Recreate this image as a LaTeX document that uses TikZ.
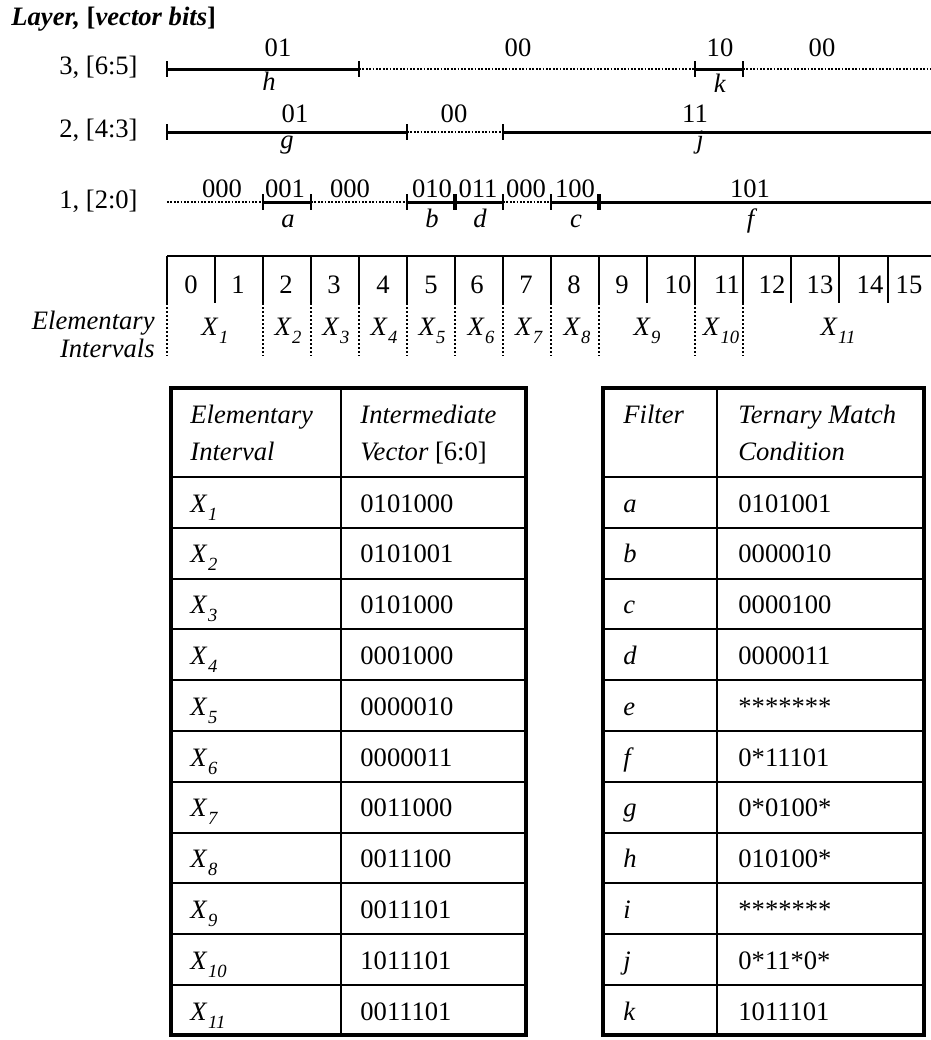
\documentclass[tikz,border=0pt]{standalone}
\usepackage{fontspec}
\setmainfont{Liberation Serif}
\newcommand\Xsub[1]{\textit{X}\kern0.3pt\raisebox{-4pt}{\fontsize{9.3}{10}\selectfont\textit{#1}}}
\tikzset{
  lbl/.style={inner sep=0pt, anchor=base, font=\fontsize{13.3}{16}\selectfont},
  lblw/.style={lbl, anchor=base west},
  lble/.style={lbl, anchor=base east},
  seg/.style={line width=1.5pt},
  dots/.style={line width=0.9pt, dash pattern=on 0.9pt off 0.8pt},
  tk/.style={line width=1.3pt},
  tkb/.style={line width=2.2pt},
  ruler/.style={line width=1.3pt},
  rdots/.style={line width=1.3pt, dash pattern=on 1pt off 1pt},
  outer/.style={line width=2.4pt},
  inner/.style={line width=1pt},
}
\begin{document}
\begin{tikzpicture}[x=0.5pt,y=-0.5pt]
\useasboundingbox (0,0) rectangle (931,1040);

% title
\node[lblw] (title) at (11,25) {\textbf{\textit{Layer,} [\textit{vector bits}]}};

% layer labels
\node[lble] (lab3) at (138,74) {3, [6:5]};
\node[lble] (lab2) at (138,137) {2, [4:3]};
\node[lble] (lab1) at (138,208) {1, [2:0]};

% ---------- layer 3 ----------
\coordinate (A0) at (167,69);
\coordinate (A4) at (359,69);
\coordinate (A11) at (695,69);
\coordinate (A12) at (743,69);
\coordinate (Ae) at (931,69);
\draw[seg] (A0) -- (A4);
\draw[dots] (A4) -- (A11);
\draw[seg] (A11) -- (A12);
\draw[dots] (A12) -- (Ae);
\foreach \c in {A0,A4,A11,A12} \draw[tk] (\c) ++(0,-8) -- ++(0,16);
\node[lbl] (l3a) at (278,56) {01};
\node[lbl] (l3b) at (518,56) {00};
\node[lbl] (l3c) at (720,56) {10};
\node[lbl] (l3d) at (822,56) {00};
\node[lbl] (fh) at (269,90) {\textit{h}};
\node[lbl] (fk) at (720,92) {\textit{k}};

% ---------- layer 2 ----------
\coordinate (B0) at (167,132);
\coordinate (B5) at (407,132);
\coordinate (B7) at (503,132);
\coordinate (Be) at (931,132);
\draw[seg] (B0) -- (B5);
\draw[dots] (B5) -- (B7);
\draw[seg] (B7) -- (Be);
\foreach \c in {B0,B5,B7} \draw[tk] (\c) ++(0,-8) -- ++(0,16);
\node[lbl] (l2a) at (295,122) {01};
\node[lbl] (l2b) at (454,122) {00};
\node[lbl] (l2c) at (695,122) {11};
\node[lbl] (fg) at (287,148) {\textit{g}};
\node[lbl] (fj) at (700,148) {\textit{j}};

% ---------- layer 1 ----------
\coordinate (C0) at (167,202);
\coordinate (C2) at (263,202);
\coordinate (C3) at (311,202);
\coordinate (C5) at (407,202);
\coordinate (C6) at (455,202);
\coordinate (C7) at (503,202);
\coordinate (C8) at (551,202);
\coordinate (C9) at (599,202);
\coordinate (Ce) at (931,202);
\draw[dots] (C0) -- (C2);
\draw[seg] (C2) -- (C3);
\draw[dots] (C3) -- (C5);
\draw[seg] (C5) -- (C7);
\draw[dots] (C7) -- (C8);
\draw[seg] (C8) -- (Ce);
\foreach \c in {C2,C3,C5,C7,C8} \draw[tk] (\c) ++(0,-8) -- ++(0,16);
\foreach \c in {C6,C9} \draw[tkb] (\c) ++(0,-8) -- ++(0,16);
\node[lbl] (l1a) at (222,197) {000};
\node[lbl] (l1b) at (285,197) {001};
\node[lbl] (l1c) at (350,197) {000};
\node[lbl] (l1d) at (432,197) {010};
\node[lbl] (l1e) at (478,197) {011};
\node[lbl] (l1f) at (526,197) {000};
\node[lbl] (l1g) at (575,197) {100};
\node[lbl] (l1h) at (750,197) {101};
\node[lbl] (fa) at (288,227) {\textit{a}};
\node[lbl] (fb) at (432,227) {\textit{b}};
\node[lbl] (fd) at (480,227) {\textit{d}};
\node[lbl] (fc) at (576,227) {\textit{c}};
\node[lbl] (ff) at (752,227) {\textit{f}};

% ---------- ruler ----------
\coordinate (Re) at (931,256);
\foreach \i/\x in {0/167,1/215,2/263,3/311,4/359,5/407,6/455,7/503,8/551,9/599,10/647,11/695,12/743,13/791,14/839,15/888}{
  \coordinate (T\i) at (\x,256);
  \coordinate (U\i) at (\x,303);
  \coordinate (V\i) at (\x,356);
  \draw[ruler] (T\i) -- (U\i);
}
\draw[ruler] (T0) -- (Re);
\foreach \i in {0,2,3,4,5,6,7,8,9,11,12} \draw[rdots] (U\i) -- (V\i);
\foreach \n/\x in {0/191,1/238,2/286,3/334,4/383,5/431,6/477,7/526,8/574,9/622,10/678,11/727,12/772,13/820,14/870,15/909}
  \node[lbl] (n\n) at (\x,293) {\n};
\foreach \n/\x in {1/215,2/288,3/336,4/384,5/432,6/481,7/529,8/577,9/647,10/721,11/838}
  \node[lbl] (x\n) at (\x,335) {\Xsub{\n}};
\node[lble] (ei1) at (155,329) {\textit{Elementary}};
\node[lble] (ei2) at (155,357) {\textit{Intervals}};

% ---------- left table ----------
\coordinate (P1) at (171,388);
\coordinate (P2) at (526,1035);
\coordinate (Pd1) at (341,388);
\coordinate (Pd2) at (341,1035);
\foreach \i in {0,...,10}{
  \coordinate (PL\i) at (171,{477+50.8*\i});
  \coordinate (PR\i) at (526,{477+50.8*\i});
  \draw[inner] (PL\i) -- (PR\i);
}
\draw[inner] (Pd1) -- (Pd2);
\draw[outer] (P1) rectangle (P2);
\node[lblw] (h1a) at (190,423) {\textit{Elementary}};
\node[lblw] (h1b) at (190,460) {\textit{Interval}};
\node[lblw] (h2a) at (360,423) {\textit{Intermediate}};
\node[lblw] (h2b) at (360,460) {\textit{Vector} [6:0]};
\foreach \i/\v in {1/0101000,2/0101001,3/0101000,4/0001000,5/0000010,6/0000011,7/0011000,8/0011100,9/0011101,10/1011101,11/0011101}{
  \node[lblw] (ra\i) at (190,{477+50.8*(\i-1)+35}) {\Xsub{\i}};
  \node[lblw] (rb\i) at (360,{477+50.8*(\i-1)+35}) {\v};
}

% ---------- right table ----------
\coordinate (Q1) at (603,388);
\coordinate (Q2) at (924,1035);
\coordinate (Qd1) at (717,388);
\coordinate (Qd2) at (717,1035);
\foreach \i in {0,...,10}{
  \coordinate (QL\i) at (603,{477+50.8*\i});
  \coordinate (QR\i) at (924,{477+50.8*\i});
  \draw[inner] (QL\i) -- (QR\i);
}
\draw[inner] (Qd1) -- (Qd2);
\draw[outer] (Q1) rectangle (Q2);
\node[lblw] (k1a) at (623,423) {\textit{Filter}};
\node[lblw] (k2a) at (738,423) {\textit{Ternary Match}};
\node[lblw] (k2b) at (738,460) {\textit{Condition}};
\foreach \i/\f/\v in {1/a/0101001,2/b/0000010,3/c/0000100,4/d/0000011,5/e/*******,6/f/0*11101,7/g/0*0100*,8/h/010100*,9/i/*******,10/j/0*11*0*,11/k/1011101}{
  \node[lblw] (qa\i) at (623,{477+50.8*(\i-1)+35}) {\textit{\f}};
  \node[lblw] (qb\i) at (738,{477+50.8*(\i-1)+35}) {\v};
}
\end{tikzpicture}
\end{document}
